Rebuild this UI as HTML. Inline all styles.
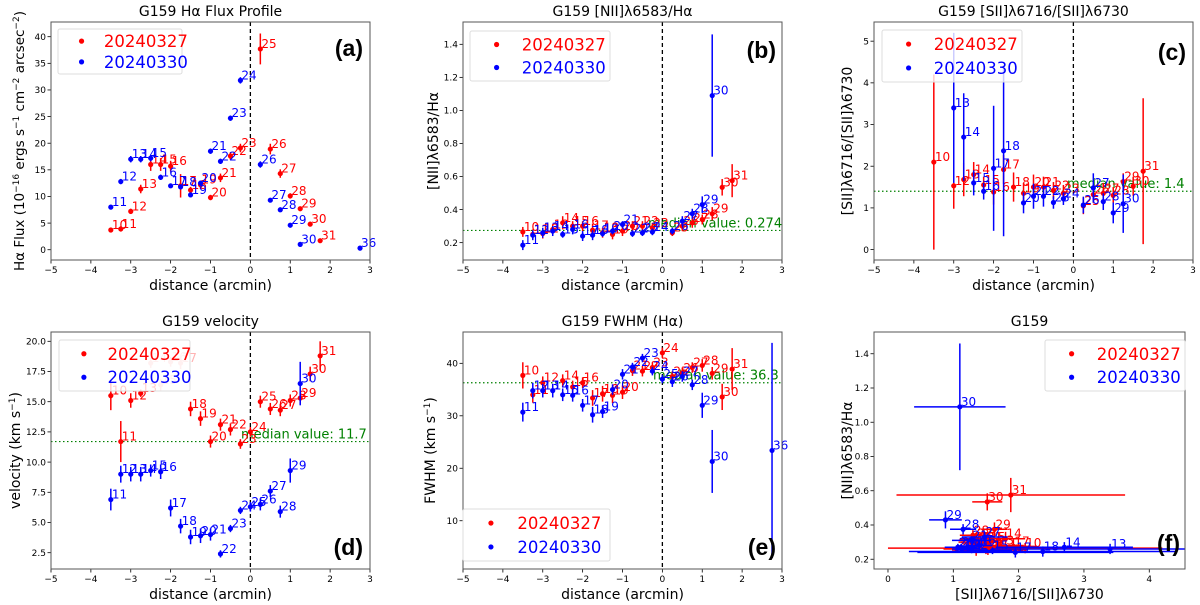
<!DOCTYPE html>
<html><head><meta charset="utf-8"><style>
body{margin:0;background:#fff;}
svg{display:block;font-family:"DejaVu Sans","Liberation Sans",sans-serif;}
</style></head><body>
<svg id="fig" width="1200" height="605" viewBox="0 0 1200 605" xmlns="http://www.w3.org/2000/svg"></svg>
<script>
// ---------- DATA ----------
// Panel (a) Halpha flux
const aRedId=[10,11,12,13,14,15,16,17,18,19,20,21,22,23,25,26,27,28,29,30,31];
const aRedX=[-3.5,-3.25,-3,-2.75,-2.5,-2.25,-2,-1.75,-1.5,-1.25,-1,-0.75,-0.5,-0.25,0.25,0.5,0.75,1,1.25,1.5,1.75];
const aRedY=[3.7,3.9,7.2,11.4,16.0,16.0,15.7,12.0,11.2,12.2,9.8,13.5,17.6,19.1,37.7,18.9,14.3,10.1,7.7,4.8,1.7];
const aRedE=[0.4,0.5,0.5,0.8,1.2,1.2,1.0,2.2,0.6,0.8,0.5,0.8,0.7,0.8,2.9,1.0,0.8,0.5,0.4,0.3,0.2];
const aBlueId=[11,12,13,14,15,16,17,18,19,20,21,22,23,24,26,27,28,29,30,36];
const aBlueX=[-3.5,-3.25,-3,-2.75,-2.5,-2.25,-2,-1.75,-1.5,-1.25,-1,-0.75,-0.5,-0.25,0.25,0.5,0.75,1,1.25,2.75];
const aBlueY=[8.0,12.8,17.0,17.0,17.2,13.6,12.0,11.8,10.3,12.5,18.5,16.6,24.7,31.8,16.0,9.3,7.5,4.6,1.0,0.3];
const aBlueE=[0.3,0.5,0.6,0.6,0.6,0.5,0.4,0.4,0.4,0.5,0.5,0.5,0.5,0.6,0.6,0.3,0.3,0.2,0.2,0.1];
// Panel (b) NII/Ha
const bRedId=[10,11,12,13,14,15,16,17,18,19,20,21,22,23,25,26,27,28,29,30,31];
const bRedX=aRedX;
const bRedY=[0.265,0.25,0.255,0.28,0.32,0.30,0.30,0.275,0.26,0.25,0.27,0.30,0.30,0.29,0.26,0.30,0.32,0.34,0.375,0.535,0.575];
const bRedE=[0.03,0.03,0.03,0.03,0.04,0.03,0.03,0.04,0.03,0.03,0.03,0.03,0.03,0.03,0.02,0.03,0.03,0.03,0.04,0.05,0.1];
const bBlueId=[11,12,13,14,15,16,17,18,19,20,21,22,23,24,26,27,28,29,30];
const bBlueX=aBlueX.slice(0,19);
const bBlueY=[0.185,0.245,0.26,0.27,0.25,0.28,0.24,0.245,0.255,0.27,0.31,0.255,0.26,0.265,0.27,0.33,0.375,0.43,1.09];
const bBlueE=[0.03,0.03,0.03,0.03,0.02,0.03,0.03,0.03,0.02,0.02,0.02,0.02,0.02,0.02,0.02,0.03,0.03,0.05,0.37];
const bMedian=0.274;
// Panel (c) SII ratio
const cRedId=[10,12,13,14,15,16,17,18,19,20,21,22,23,25,26,27,28,29,30,31];
const cRedX=[-3.5,-3,-2.75,-2.5,-2.25,-2,-1.75,-1.5,-1.25,-1,-0.75,-0.5,-0.25,0.25,0.5,0.75,1,1.25,1.5,1.75];
const cRedY=[2.1,1.53,1.68,1.8,1.55,1.38,1.92,1.5,1.35,1.5,1.5,1.42,1.35,1.05,1.32,1.35,1.3,1.63,1.52,1.88];
const cRedE=[2.1,0.55,0.4,0.3,0.2,0.3,0.35,0.35,0.25,0.3,0.25,0.2,0.2,0.2,0.2,0.25,0.2,0.2,0.23,1.75];
const cBlueId=[13,14,15,16,17,18,20,21,22,23,24,26,27,28,29,30];
const cBlueX=[-3,-2.75,-2.5,-2.25,-2,-1.75,-1.25,-1,-0.75,-0.5,-0.25,0.25,0.5,0.75,1,1.25];
const cBlueY=[3.4,2.7,1.6,1.4,1.95,2.37,1.12,1.28,1.28,1.13,1.22,1.07,1.48,1.15,0.88,1.1];
const cBlueE=[1.8,1.05,0.3,0.2,1.5,2.05,0.25,0.3,0.25,0.15,0.15,0.2,0.35,0.2,0.25,0.7];
const cMedian=1.4;
// Panel (d) velocity
const dRedId=[10,11,12,13,14,15,16,17,18,19,20,21,22,23,24,25,26,27,28,29,30,31];
const dRedX=[-3.5,-3.25,-3,-2.75,-2.5,-2.25,-2,-1.75,-1.5,-1.25,-1,-0.75,-0.5,-0.25,0,0.25,0.5,0.75,1,1.25,1.5,1.75];
const dRedY=[15.5,11.7,15.1,15.7,18.2,16.4,18.3,18.2,14.4,13.6,11.7,13.1,12.7,11.5,12.5,15.0,14.4,14.3,15.1,15.3,17.3,18.8];
const dRedE=[1.2,1.7,0.6,0.3,0.4,0.5,0.4,0.5,0.6,0.6,0.5,0.5,0.5,0.4,0.4,0.5,0.5,0.5,0.5,0.5,0.6,1.2];
const dRedFaded=[0,0,0,0,1,1,1,1,0,0,0,0,0,0,0,0,0,0,0,0,0,0];
const dBlueId=[11,12,13,14,15,16,17,18,19,20,21,22,23,24,25,26,27,28,29,30];
const dBlueX=[-3.5,-3.25,-3,-2.75,-2.5,-2.25,-2,-1.75,-1.5,-1.25,-1,-0.75,-0.5,-0.25,0,0.25,0.5,0.75,1,1.25];
const dBlueY=[6.9,9.0,9.0,9.0,9.3,9.2,6.2,4.7,3.8,3.9,4.0,2.4,4.5,6.0,6.3,6.5,7.6,5.9,9.3,16.5];
const dBlueE=[0.9,0.7,0.6,0.6,0.5,0.6,0.7,0.6,0.6,0.6,0.5,0.3,0.3,0.3,0.4,0.5,0.5,0.5,1.0,1.8];
const dMedian=11.7;
// Panel (e) FWHM
const eRedId=[10,11,12,14,15,16,17,18,19,20,21,22,23,24,25,26,27,28,29,30,31];
const eRedX=[-3.5,-3.25,-3,-2.5,-2.25,-2,-1.75,-1.5,-1.25,-1,-0.75,-0.5,-0.25,0,0.25,0.5,0.75,1,1.25,1.5,1.75];
const eRedY=[37.7,34.0,36.3,36.7,35.5,36.3,33.4,34.2,33.9,34.5,38.6,38.5,39.2,42.0,37.5,38.2,39.2,39.6,38.1,33.6,38.9];
const eRedE=[2.5,1.5,1.2,1.2,1.2,1.0,1.5,1.5,1.5,1.3,1.0,1.0,1.0,1.0,1.0,1.0,1.0,1.2,1.2,2.5,4.0];
const eBlueId=[11,12,13,14,15,16,17,18,19,20,21,22,23,24,25,26,27,28,29,30,36];
const eBlueX=[-3.5,-3.25,-3,-2.75,-2.5,-2.25,-2,-1.75,-1.5,-1.25,-1,-0.75,-0.5,-0.25,0,0.25,0.5,0.75,1,1.25,2.75];
const eBlueY=[30.7,34.8,34.8,34.8,34.0,33.9,32.0,30.2,30.8,35.0,37.9,39.3,41.0,38.5,37.0,36.5,37.5,35.9,32.0,21.3,23.4];
const eBlueE=[1.8,1.5,1.3,1.3,1.2,1.2,1.2,1.5,1.2,1.0,1.0,0.8,0.8,0.8,0.8,1.0,1.0,1.0,2.4,6.0,20.5];
const eMedian=36.3;
// tick labels
const xTicksDist=[-5,-4,-3,-2,-1,0,1,2,3];
const aYTicks=[0,5,10,15,20,25,30,35,40];
const bYTicks=[0.2,0.4,0.6,0.8,1.0,1.2,1.4];
const cYTicks=[0,1,2,3,4,5];
const dYTicks=[2.5,5.0,7.5,10.0,12.5,15.0,17.5,20.0];
const eYTicks=[10,20,30,40];
const fXTicks=[0,1,2,3,4];
const fYTicks=[0.2,0.4,0.6,0.8,1.0,1.2,1.4];

// ---------- DRAWING ----------
const NS="http://www.w3.org/2000/svg";
const svg=document.getElementById('fig');
function mk(tag,attrs,parent,text){const e=document.createElementNS(NS,tag);for(const k in attrs)e.setAttribute(k,attrs[k]);if(text!==undefined)e.textContent=text;(parent||svg).appendChild(e);return e;}
const RED='#ff0000',BLUE='#0000ff';
const defs=mk('defs',{});

function panel(p){
  const g=mk('g',{});
  
  
  const cp=mk('clipPath',{id:'clip-'+p.key},defs);
  mk('rect',{x:p.bx[0],y:p.by[0],width:p.bx[1]-p.bx[0],height:p.by[1]-p.by[0]},cp);
  const X=v=>p.bx[0]+(v-p.xd[0])/(p.xd[1]-p.xd[0])*(p.bx[1]-p.bx[0]);
  const Y=v=>p.by[1]-(v-p.yd[0])/(p.yd[1]-p.yd[0])*(p.by[1]-p.by[0]);
  p.X=X;p.Y=Y;
  const t=mk('text',{x:(p.bx[0]+p.bx[1])/2,y:p.by[0]-6,'text-anchor':'middle','font-size':14},g,p.title);
  
  
  p.xt.forEach(v=>{const x=X(v);mk('line',{x1:x,x2:x,y1:p.by[1],y2:p.by[1]+3.5,stroke:'#000','stroke-width':0.8},g);
    const tl=mk('text',{x:x,y:p.by[1]+13,'text-anchor':'middle','font-size':9},g,(v<0?'\u2212'+(-v):''+v));
    
    });
  p.yt.forEach(v=>{const y=Y(v);mk('line',{x1:p.bx[0]-3.5,x2:p.bx[0],y1:y,y2:y,stroke:'#000','stroke-width':0.8},g);
    const tl=mk('text',{x:p.bx[0]-5,y:y+3.2,'text-anchor':'end','font-size':9},g,p.yfmt?p.yfmt(v):''+v);
    
    });
  const xl=mk('text',{x:(p.bx[0]+p.bx[1])/2,y:p.by[1]+30,'text-anchor':'middle','font-size':14},g,p.xlabel);
  
  
  const yl=mk('text',{x:0,y:0,'text-anchor':'middle','font-size':p.ylfs||14,transform:`translate(${p.ylx},${(p.by[0]+p.by[1])/2}) rotate(-90)`},g);
  yl.innerHTML=p.ylabel;
  
  
  if(p.zero){const zl=mk('line',{x1:X(0),x2:X(0),y1:p.by[0],y2:p.by[1],stroke:'#000','stroke-width':1.3,'stroke-dasharray':'4,3'},g);
    
    }
  if(p.median!==undefined){const y=Y(p.median);
    const ml=mk('line',{x1:p.bx[0],x2:p.bx[1],y1:y,y2:y,stroke:'#008000','stroke-width':1.2,'stroke-dasharray':'1.5,2.5'},g);
    
    
    const mt=mk('text',{x:p.medx,y:y-3,'font-size':13,fill:'#008000'},g,'median value: '+p.median);
    
    }
  return g;
}
function series(p,g,xs,ys,ids,color,yerr,xerr,faded,name){
  const sg=mk('g',{},g);
  
  
  const mg=mk('g',{'clip-path':'url(#clip-'+p.key+')'},sg);
  xs.forEach((xv,i)=>{
    const col=(faded&&faded[i])?'#ffb3b3':color;
    const x=p.X(xv),y=p.Y(ys[i]);
    if(yerr){mk('line',{x1:x,x2:x,y1:p.Y(ys[i]-yerr[i]),y2:p.Y(ys[i]+yerr[i]),stroke:col,'stroke-width':1.5},mg);}
    if(xerr){mk('line',{x1:p.X(xv-xerr[i]),x2:p.X(xv+xerr[i]),y1:y,y2:y,stroke:col,'stroke-width':1.5},mg);}
    const c=mk('circle',{cx:x,cy:y,r:2.6,fill:col},mg);
    
    
    const tx=mk('text',{x:x+1,y:y-1,'font-size':12,fill:col},sg,''+ids[i]);
    
    
  });
}
function frame(p,g){mk('rect',{x:p.bx[0],y:p.by[0],width:p.bx[1]-p.bx[0],height:p.by[1]-p.by[0],fill:'none',stroke:'#555','stroke-width':1},g);}
function legend(g,x,y,w,h){
  const lg=mk('g',{},g);
  
  
  mk('rect',{x:x,y:y,width:w,height:h,fill:'#fff','fill-opacity':0.8,stroke:'#ddd','stroke-width':1,rx:2},lg);
  [[RED,'20240327',0],[BLUE,'20240330',1]].forEach(([c,l,i])=>{
    const yy=y+h*0.27+i*h*0.46;
    mk('circle',{cx:x+w*0.19,cy:yy,r:2.6,fill:c},lg);
    const e=mk('text',{x:x+w*0.37,y:yy+6,'font-size':16.5,fill:c},lg,l);
    
    
  });
}
function letter(g,t,x,y){const e=mk('text',{x:x,y:y,'font-size':23,'font-weight':'bold','text-anchor':'end','font-family':'Liberation Sans, sans-serif'},g,t);
  
  }

const distLabel='distance (arcmin)';
// (a)
let pa={key:'a',bx:[51,370],by:[22,260],xd:[-5,3],yd:[-1.93,42.76],xt:xTicksDist,yt:aYTicks,title:'G159 H\u03b1 Flux Profile',xlabel:distLabel,ylx:24,ylfs:13.5,
 ylabel:'H\u03b1 Flux (10<tspan dy="-5" font-size="9">\u221216</tspan><tspan dy="5"> ergs s</tspan><tspan dy="-5" font-size="9">\u22121</tspan><tspan dy="5"> cm</tspan><tspan dy="-5" font-size="9">\u22122</tspan><tspan dy="5"> arcsec</tspan><tspan dy="-5" font-size="9">\u22122</tspan><tspan dy="5">)</tspan>',zero:true};
let ga=panel(pa);
series(pa,ga,aRedX,aRedY,aRedId,RED,aRedE,null,null,'series-20240327');
series(pa,ga,aBlueX,aBlueY,aBlueId,BLUE,aBlueE,null,null,'series-20240330');
frame(pa,ga);legend(ga,58,29,124,45);letter(ga,'(a)',363,56);
// (b)
let pb={key:'b',bx:[463,782],by:[22,260],xd:[-5,3],yd:[0.095,1.535],xt:xTicksDist,yt:bYTicks,yfmt:v=>v.toFixed(1),title:'G159 [NII]\u03bb6583/H\u03b1',xlabel:distLabel,ylx:438,ylabel:'[NII]\u03bb6583/H\u03b1',zero:true,median:bMedian,medx:648};
let gb=panel(pb);
series(pb,gb,bRedX,bRedY,bRedId,RED,bRedE,null,null,'series-20240327');
series(pb,gb,bBlueX,bBlueY,bBlueId,BLUE,bBlueE,null,null,'series-20240330');
frame(pb,gb);legend(gb,470,31,140,50);letter(gb,'(b)',776,58);
// (c)
let pc={key:'c',bx:[874,1193],by:[22,260],xd:[-5,3],yd:[-0.25,5.46],xt:xTicksDist,yt:cYTicks,title:'G159 [SII]\u03bb6716/[SII]\u03bb6730',xlabel:distLabel,ylx:852,ylabel:'[SII]\u03bb6716/[SII]\u03bb6730',zero:true,median:cMedian,medx:1067};
let gc=panel(pc);
series(pc,gc,cRedX,cRedY,cRedId,RED,cRedE,null,null,'series-20240327');
series(pc,gc,cBlueX,cBlueY,cBlueId,BLUE,cBlueE,null,null,'series-20240330');
frame(pc,gc);legend(gc,882,30,140,52);letter(gc,'(c)',1186,60);
// (d)
let pd={key:'d',bx:[51,370],by:[332,569],xd:[-5,3],yd:[1.15,20.77],xt:xTicksDist,yt:dYTicks,yfmt:v=>v.toFixed(1),title:'G159 velocity',xlabel:distLabel,ylx:20,ylabel:'velocity (km s<tspan dy="-5" font-size="9">\u22121</tspan><tspan dy="5">)</tspan>',zero:true,median:dMedian,medx:241};
let gd=panel(pd);
series(pd,gd,dRedX,dRedY,dRedId,RED,dRedE,null,dRedFaded,'series-20240327');
series(pd,gd,dBlueX,dBlueY,dBlueId,BLUE,dBlueE,null,null,'series-20240330');
frame(pd,gd);legend(gd,59,340,131,51);letter(gd,'(d)',363,555);
// (e)
let pe={key:'e',bx:[463,782],by:[332,569],xd:[-5,3],yd:[0.8,45.97],xt:xTicksDist,yt:eYTicks,title:'G159 FWHM (H\u03b1)',xlabel:distLabel,ylx:435,ylabel:'FWHM (km s<tspan dy="-5" font-size="9">\u22121</tspan><tspan dy="5">)</tspan>',zero:true,median:eMedian,medx:653};
let ge=panel(pe);
series(pe,ge,eRedX,eRedY,eRedId,RED,eRedE,null,null,'series-20240327');
series(pe,ge,eBlueX,eBlueY,eBlueId,BLUE,eBlueE,null,null,'series-20240330');
frame(pe,ge);legend(ge,463,509,147,52);letter(ge,'(e)',776,555);
// (f) : join (c) and (b) by point id
let pf={key:'f',bx:[874,1185],by:[332,569],xd:[-0.214,4.547],yd:[0.143,1.527],xt:fXTicks,yt:fYTicks,yfmt:v=>v.toFixed(1),title:'G159',xlabel:'[SII]\u03bb6716/[SII]\u03bb6730',ylx:852,ylabel:'[NII]\u03bb6583/H\u03b1'};
let gf=panel(pf);
function joined(cId,cY,cE,bId,bY,bE){const xs=[],ys=[],ids=[],xe=[],ye=[];
  cId.forEach((id,i)=>{const j=bId.indexOf(id);if(j>=0){xs.push(cY[i]);xe.push(cE[i]);ys.push(bY[j]);ye.push(bE[j]);ids.push(id);}});
  return {xs,ys,ids,xe,ye};}
const fr=joined(cRedId,cRedY,cRedE,bRedId,bRedY,bRedE);
const fb=joined(cBlueId,cBlueY,cBlueE,bBlueId,bBlueY,bBlueE);
series(pf,gf,fr.xs,fr.ys,fr.ids,RED,fr.ye,fr.xe,null,'series-20240327');
series(pf,gf,fb.xs,fb.ys,fb.ids,BLUE,fb.ye,fb.xe,null,'series-20240330');
frame(pf,gf);legend(gf,1045,340,140,51);letter(gf,'(f)',1180,551);
</script>
</body></html>
